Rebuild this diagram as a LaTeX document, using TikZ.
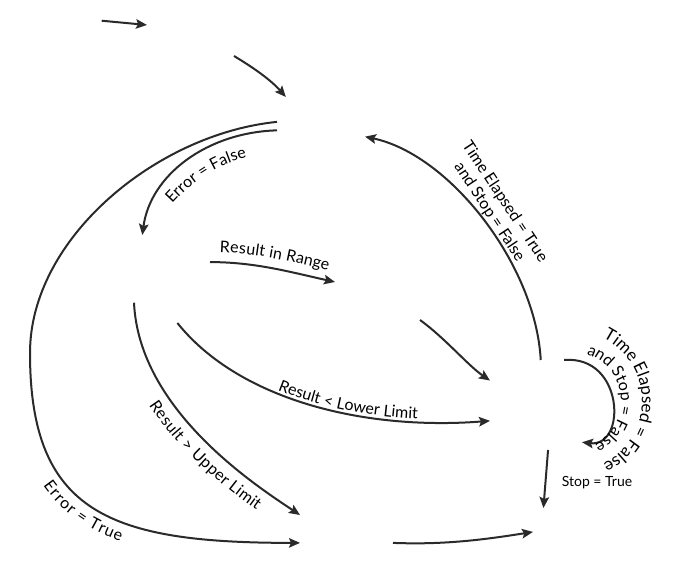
\documentclass[tikz,border=0pt]{standalone}
\usepackage{fontspec}
\setmainfont{Lato}
\usetikzlibrary{arrows.meta,decorations.text}
\definecolor{linecol}{HTML}{2A2A2A}
\newcommand\lblfont{\fontsize{16}{18.5}\selectfont}
\newcommand\loopfont{\fontsize{17}{19}\selectfont}
\newcommand\stopfont{\fontsize{14}{16}\selectfont}

\begin{document}
\begin{tikzpicture}[x=1pt,y=-1pt,
  state/.style={rectangle,draw=none,inner sep=0pt,outer sep=0pt},
  edge/.style={draw=linecol,line width=2pt,-{Stealth[length=11pt,width=9.5pt,inset=2pt]}},
  along/.style n args={3}{postaction={decorate,decoration={text along path,
      text={|\lblfont|#1},raise=#2,text align={#3}}}},
  textpath/.style={decorate,decoration={text along path,text={|\lblfont|#1},text align=center}},
  lbl/.style={font=\stopfont,inner sep=0pt},
  tlbl/.style={font=\lblfont,inner sep=0pt,align=center}]

\useasboundingbox (0,0) rectangle (694,578);

% states (unlabelled boxes)
\node[state,minimum width=87pt,minimum height=62pt] (S) at (190.5,25) {};
\node[state,minimum width=88pt,minimum height=59pt] (A) at (321,126.5) {};
\node[state,minimum width=76pt,minimum height=88pt] (B) at (172,279) {};
\node[state,minimum width=85pt,minimum height=38pt] (C) at (377.5,301) {};
\node[state,minimum width=92pt,minimum height=90pt] (D) at (536,405) {};
\node[state,minimum width=93pt,minimum height=36pt] (E) at (346.5,533) {};
\node[state,minimum width=54pt,minimum height=44pt] (F) at (560,530) {};

\coordinate (init) at (101.7,20.7);
\coordinate (eT) at (30,353);
\coordinate (loopc) at (572,401);

% transitions
\draw[edge] (init) -- (S.west);
\draw[edge] (S.south east) .. controls +(20,12) and +(-15,-17) .. (A.140.67);

\draw[edge,along={Error = True}{-19pt}{right,right indent=175pt}]
  (A.174.16) .. controls +(-120,12) and +(0,-115) .. (eT)
  .. controls +(0,160) and +(-190,0) .. (E.192.1);

\draw[edge] (A.185.84) .. controls +(-70,2) and +(8,-60) .. (B.124.55);
\path[textpath={Error = False}] (166,211) .. controls (185,188) and (215,162) .. (256,156);

\draw[edge,along={Result in Range}{10pt}{center}]
  (B.24.1) .. controls +(45,0) and +(-45,-10) .. (C.north west);

\draw[edge,along={Result < Lower Limit}{3pt}{center,left indent=50pt}]
  (B.-83.5) .. controls +(60,75) and +(-130,10) .. (D.199.2);

\draw[edge,along={Result > Upper Limit}{-20.5pt}{center,left indent=59pt}]
  (B.212.3) .. controls +(5,107) and +(-45,-30) .. (E.north west);

\draw[edge] (C.south east) .. controls +(25,18) and +(-22,-15) .. (D.152.3);

\draw[edge] (D.84.9) .. controls +(-5,-95) and +(85,18) .. (A.-13.42);
\node[tlbl,rotate=-56.5] (timeup) at (497,207) {Time Elapsed = True\\and Stop = False};

% self loop with its label set on two arcs
\draw[edge] (D.58.2) .. controls +(60,-5) and +(45,5) .. (D.-39.6);
\path[decorate,decoration={text along path,text={|\loopfont|Time Elapsed = False},text align=center}]
  ([shift={(95:70pt)}]loopc) arc[start angle=95,end angle=-95,radius=70pt];
\path[textpath={and Stop = False}]
  ([shift={(100:49pt)}]loopc) arc[start angle=100,end angle=-90,radius=49pt];

\draw[edge] (D.-75.1) -- (F.127.7);
\node[lbl] (stop) at (597,483) {Stop = True};

\draw[edge] (E.-12.1) .. controls +(50,2) and +(-50,8) .. (F.184.2);
\end{tikzpicture}
\end{document}
